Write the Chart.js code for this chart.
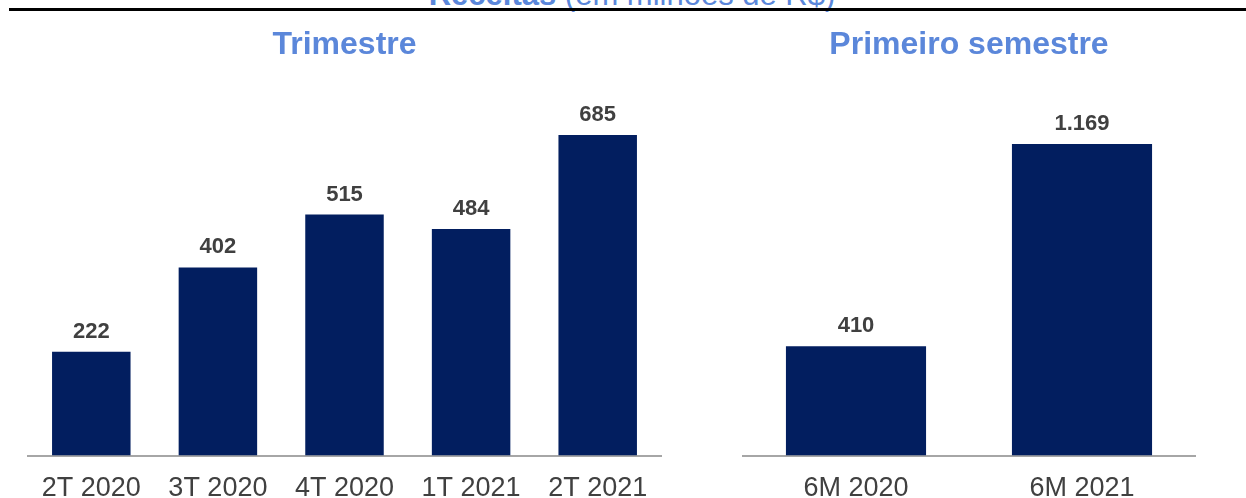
<!DOCTYPE html>
<html>
<head>
<meta charset="utf-8">
<script src="https://cdn.jsdelivr.net/npm/chart.js@4/dist/chart.umd.min.js"></script>
<style>
  html, body { margin: 0; padding: 0; background: #fff; overflow: hidden; }
  body { width: 1246px; height: 498px; position: relative; font-family: "Liberation Sans", Arial, sans-serif; }
  #header { position: absolute; left: 0; width: 1264px; top: -21px; text-align: center;
            font-size: 31px; line-height: 31px; color: #5B87DA; white-space: nowrap; }
  #rule { position: absolute; left: 9px; right: 0; top: 8px; height: 3px; background: #000; }
  #wrapLeft { position: absolute; left: 0; top: 0; width: 690px; height: 522px; }
  #wrapRight { position: absolute; left: 690px; top: 0; width: 556px; height: 522px; }
</style>
</head>
<body>
<div id="header"><b>Receitas</b> (em milhões de R$)</div>
<div id="rule"></div>
<div id="wrapLeft"><canvas id="leftChart"></canvas></div>
<div id="wrapRight"><canvas id="rightChart"></canvas></div>
<script>
// data
const quarterLabels = ['2T 2020', '3T 2020', '4T 2020', '1T 2021', '2T 2021'];
const quarterValues = [222, 402, 515, 484, 685];

const semesterLabels = ['6M 2020', '6M 2021'];
const semesterValues = [410, 1169];

const BAR_COLOR = '#021E5F';
const TITLE_COLOR = '#5B87DA';
const TEXT_COLOR = '#404040';
const FONT = '"Liberation Sans", Arial, sans-serif';

// 1169 -> "1.169"
function fmt(v) {
  return String(v).replace(/\B(?=(\d{3})+(?!\d))/g, '.');
}

// draws value above each bar
const valueLabels = {
  id: 'valueLabels',
  afterDatasetsDraw(chart) {
    const ctx = chart.ctx;
    ctx.save();
    ctx.font = 'bold 22px ' + FONT;
    ctx.fillStyle = TEXT_COLOR;
    ctx.textAlign = 'center';
    ctx.textBaseline = 'alphabetic';
    chart.getDatasetMeta(0).data.forEach(function (bar, i) {
      const v = chart.data.datasets[0].data[i];
      ctx.fillText(fmt(v), bar.x, bar.y - 14);
    });
    ctx.restore();
  }
};

function makeChart(id, title, labels, values, yMax, padLeft, padRight) {
  return new Chart(document.getElementById(id), {
    type: 'bar',
    data: {
      labels: labels,
      datasets: [{
        data: values,
        backgroundColor: BAR_COLOR,
        borderWidth: 0,
        barPercentage: 0.62,
        categoryPercentage: 1
      }]
    },
    options: {
      responsive: true,
      maintainAspectRatio: false,
      animation: false,
      layout: { padding: { left: padLeft, right: padRight, top: 0, bottom: 0 } },
      plugins: {
        legend: { display: false },
        tooltip: { enabled: false },
        title: {
          display: true,
          text: title,
          color: TITLE_COLOR,
          font: { family: FONT, size: 32, weight: 'bold' },
          padding: { top: 26, bottom: 20 }
        }
      },
      scales: {
        x: {
          grid: { display: false, drawTicks: false },
          border: { display: true, color: '#A6A6A6', width: 2 },
          ticks: {
            color: TEXT_COLOR,
            font: { family: FONT, size: 27 },
            padding: 17,
            maxRotation: 0,
            autoSkip: false
          }
        },
        y: {
          display: false,
          min: 0,
          max: yMax
        }
      }
    },
    plugins: [valueLabels]
  });
}

makeChart('leftChart', 'Trimestre', quarterLabels, quarterValues, 793, 28, 29);
makeChart('rightChart', 'Primeiro semestre', semesterLabels, semesterValues, 1393, 53, 51);
</script>
</body>
</html>
